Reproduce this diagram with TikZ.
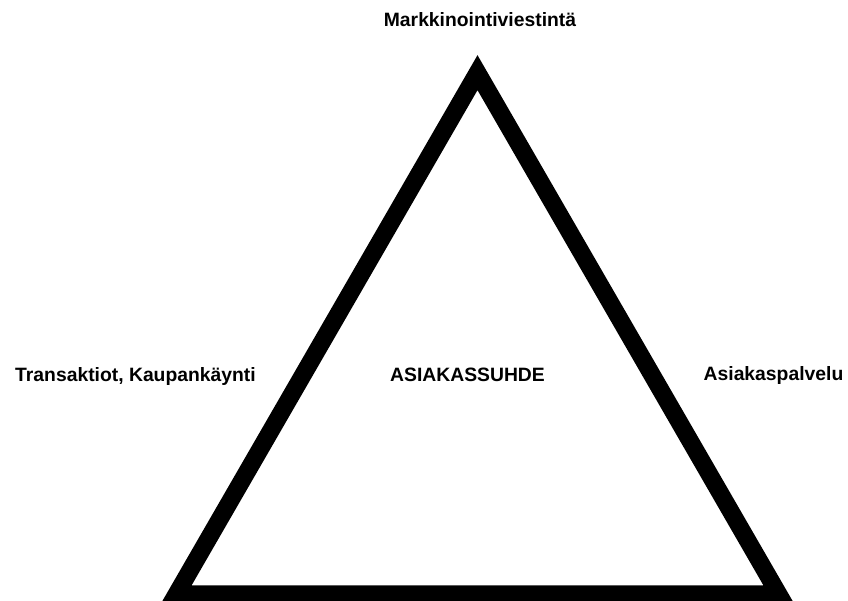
\documentclass[tikz,border=0pt]{standalone}
\usepackage{fontspec}
\setmainfont{Liberation Sans}
\begin{document}
\begin{tikzpicture}[x=0.02cm,y=0.02cm,
	label/.style={font=\fontsize{11}{13}\selectfont\bfseries, inner sep=0pt}]
	
	\def\cx{477.5}
	\def\base{6}
	\def\side{602}
	\def\thick{0.35cm}
	
	\useasboundingbox (0,0) rectangle (848,600);
	\clip (0,0) rectangle (848,600);
	
	% The corners of the triangle
	\coordinate (left) at (\cx - 0.5*\side, \base);
	\coordinate (right) at (\cx + 0.5*\side, \base);
	\coordinate (top) at (\cx, {\base + 0.866*\side});
	
	\draw [line width=\thick] (left) -- (top) -- (right) -- cycle;
	
	% The labels
	\node [label] (marketing) at (480, 580) {Markkinointiviestintä};
	\node [label] (trade)     at (135.5, 224) {Transaktiot, Kaupankäynti};
	\node [label] (relation)  at (467.5, 225) {ASIAKASSUHDE};
	\node [label] (service)   at (773.5, 225) {Asiakaspalvelu};
	
\end{tikzpicture}
\end{document}
